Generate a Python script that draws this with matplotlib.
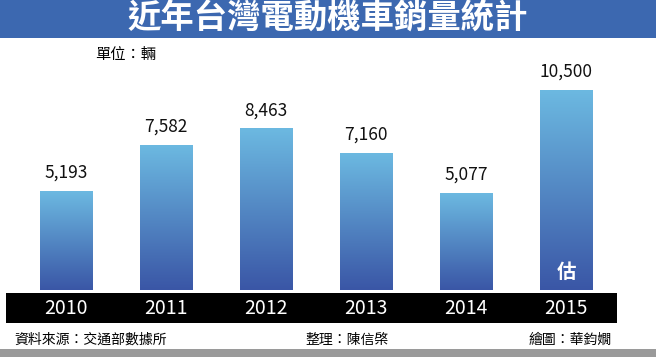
import matplotlib.pyplot as plt
import numpy as np
from matplotlib.patches import Rectangle

plt.rcParams['font.family'] = ['Noto Sans CJK TC', 'DejaVu Sans']

years = ['2010', '2011', '2012', '2013', '2014', '2015']
sales = [5193, 7582, 8463, 7160, 5077, 10500]
labels = ['5,193', '7,582', '8,463', '7,160', '5,077', '10,500']

W, H = 656, 357
fig = plt.figure(figsize=(W / 100, H / 100), dpi=100)
fig.patch.set_facecolor('white')


def fx(px):
    return px / W


def fy(py):
    return 1 - py / H


# title banner
fig.patches.append(Rectangle((0, fy(38)), 1, 38 / H, transform=fig.transFigure,
                             facecolor='#3c68b0', edgecolor='none', zorder=0))
fig.text(fx(328), fy(19), '近年台灣電動機車銷量統計', color='white', fontsize=24,
         fontweight='bold', ha='center', va='center')

# black year band
fig.patches.append(Rectangle((fx(6), fy(323)), fx(611), 30 / H, transform=fig.transFigure,
                             facecolor='black', edgecolor='none', zorder=0))
# bottom shadow
fig.patches.append(Rectangle((0, 0), 1, 8 / H, transform=fig.transFigure,
                             facecolor='#9a9a9a', edgecolor='none', zorder=0))

ax = fig.add_axes([fx(8), fy(290), fx(609), (290 - 45) / H])
ax.set_xlim(-0.58, 5.51)
ax.set_ylim(0, 12862.5)
ax.axis('off')

cmap = plt.matplotlib.colors.LinearSegmentedColormap.from_list('g', ['#3a56a6', '#6cb9e1'])
grad = np.linspace(0, 1, 256).reshape(-1, 1)
bw = 0.53
for i, v in enumerate(sales):
    ax.imshow(grad, cmap=cmap, origin='lower', aspect='auto',
              extent=(i - bw / 2, i + bw / 2, 0, v), zorder=2)
    ax.text(i, v + 500, labels[i], ha='center', va='bottom', fontsize=12.5, color='#111111')
ax.text(5, 900, '估', ha='center', va='center', fontsize=14, color='white', fontweight='bold')

for i, y in enumerate(years):
    fig.text(fx(66 + 100 * i), fy(308), y, color='white', fontsize=14,
             fontweight='medium', ha='center', va='center')

fig.text(fx(95), fy(55), '單位：輛', fontsize=11, fontweight='medium', ha='left', va='center')
fig.text(fx(14), fy(340), '資料來源：交通部數據所', fontsize=10, ha='left', va='center')
fig.text(fx(305), fy(340), '整理：陳信棨', fontsize=10, ha='left', va='center')
fig.text(fx(612), fy(340), '繪圖：華鈞嫺', fontsize=10, ha='right', va='center')

fig.savefig('out.png', dpi=100)
